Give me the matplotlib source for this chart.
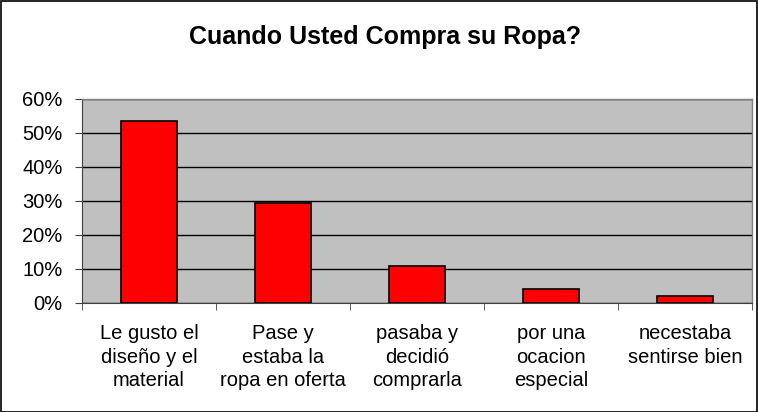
import matplotlib
matplotlib.use("Agg")
import matplotlib.pyplot as plt
from matplotlib.patches import Rectangle
from matplotlib.ticker import FixedLocator, PercentFormatter

plt.rcParams['font.family'] = ['Liberation Sans', 'DejaVu Sans']

categories = ["Le gusto el\ndiseño y el\nmaterial",
              "Pase y\nestaba la\nropa en oferta",
              "pasaba y\ndecidió\ncomprarla",
              "por una\nocacion\nespecial",
              "necestaba\nsentirse bien"]
values = [53.5, 29.3, 10.9, 4.0, 2.1]
yticks = [0, 10, 20, 30, 40, 50, 60]
title = "Cuando Usted Compra su Ropa?"

fig = plt.figure(figsize=(7.58, 4.12), dpi=100)
fig.patch.set_facecolor('white')
ax = fig.add_axes([82/758, 1-303/412, 670/758, 204/412])
ax.set_facecolor('#C0C0C0')

x = list(range(len(categories)))
ax.bar(x, values, width=0.42, color='#FF0000', edgecolor='black', linewidth=1.2, zorder=3)

ax.set_xlim(-0.5, len(categories)-0.5)
ax.set_ylim(0, 60)
ax.yaxis.set_major_locator(FixedLocator(yticks))
ax.yaxis.set_major_formatter(PercentFormatter(decimals=0))
ax.grid(axis='y', color='black', linewidth=1, zorder=1)
ax.set_axisbelow(True)

ax.set_xticks(x)
ax.set_xticklabels(categories, fontsize=14.5, linespacing=1.32)
ax.tick_params(axis='x', length=0, pad=15)
ax.set_xticks([i + 0.5 for i in range(-1, len(categories))], minor=True)
ax.tick_params(axis='x', which='minor', length=5, color='#404040', direction='out')
ax.tick_params(axis='y', labelsize=14.5, length=5, color='#404040', direction='out', pad=9)

for s in ['top', 'right']:
    ax.spines[s].set_color('#808080')
    ax.spines[s].set_linewidth(1)
ax.spines['left'].set_color('#404040')
ax.spines['bottom'].set_color('#404040')

fig.text(385/758, 1-37/412, title, ha='center', va='center', fontsize=18, fontweight='bold')

fig.add_artist(Rectangle((0.5/758, 0.5/412), 756.5/758, 410.5/412, transform=fig.transFigure,
                         fill=False, edgecolor='black', linewidth=1.2))

fig.savefig("out.png", dpi=100)
